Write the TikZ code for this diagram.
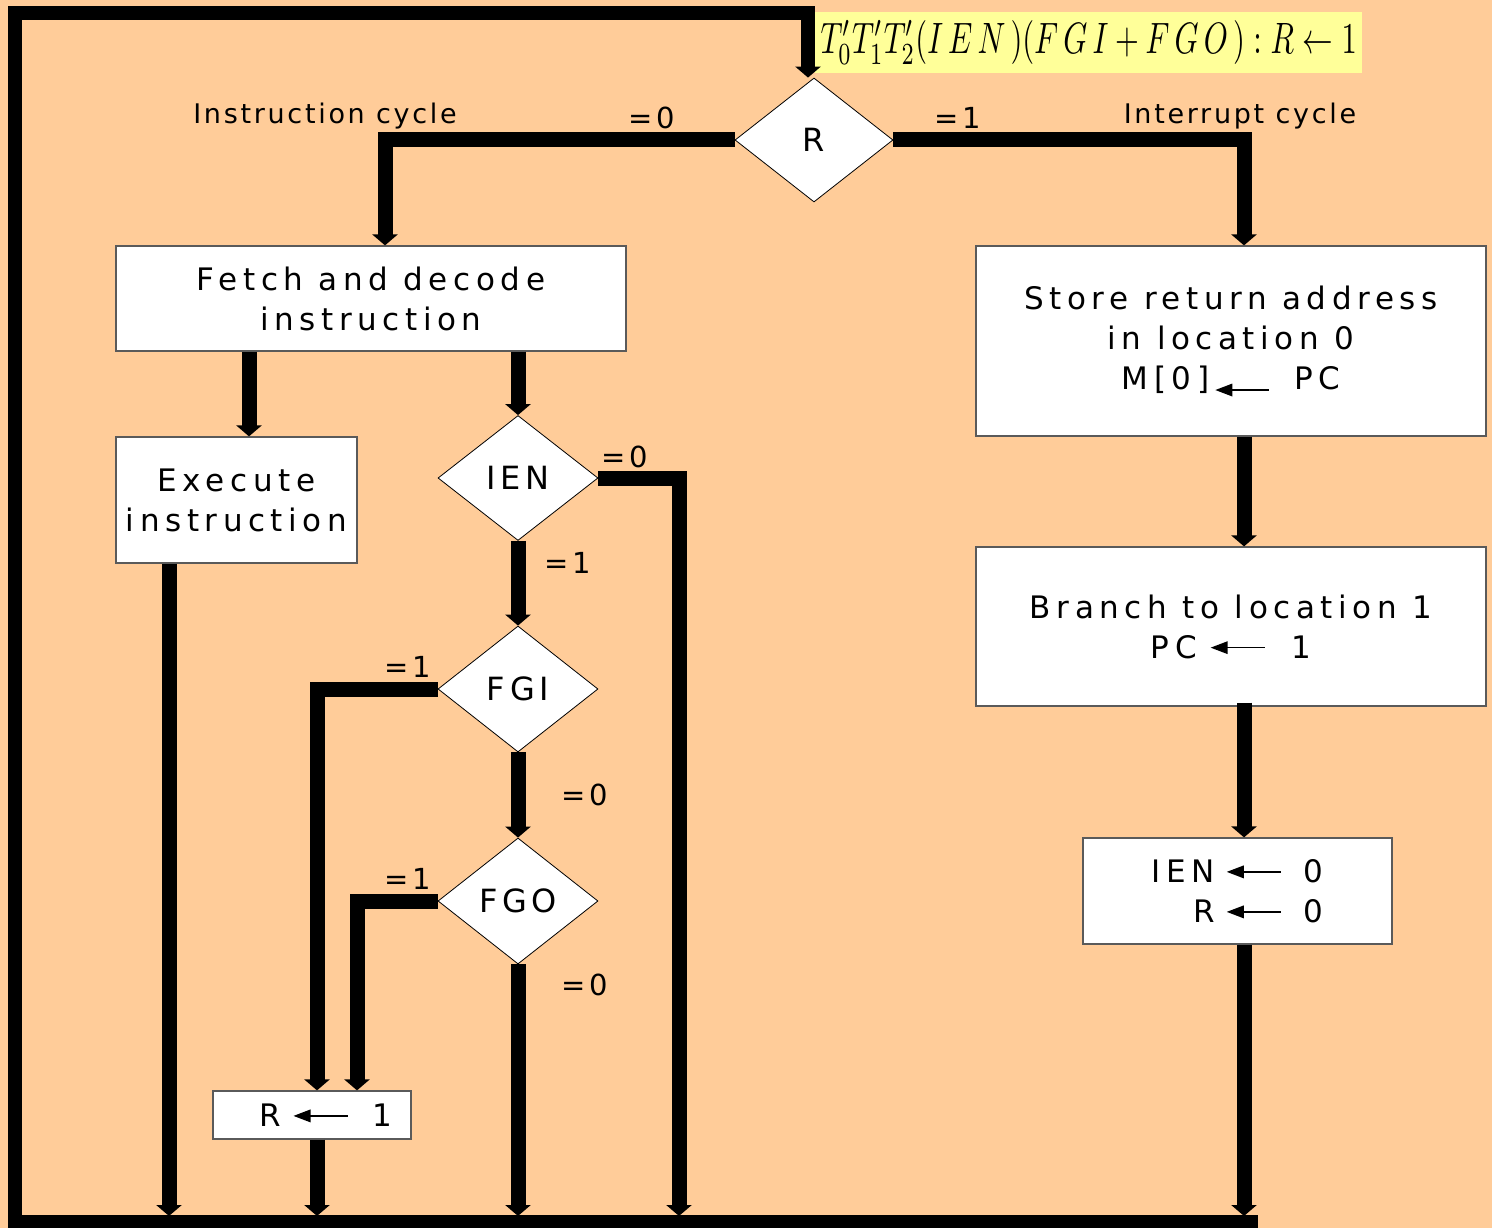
\documentclass[tikz,border=0pt]{standalone}
\usepackage{fontspec}
\usepackage{graphicx}
\usetikzlibrary{arrows.meta,shapes.geometric}
\setmainfont{DejaVu Sans}
\newfontfamily\boxfont[LetterSpace=18]{DejaVu Sans}
\newfontfamily\testfont[LetterSpace=15]{DejaVu Sans}
\newfontfamily\labelfont[LetterSpace=10]{DejaVu Sans}
\newfontfamily\valuefont[LetterSpace=14]{DejaVu Sans}
\definecolor{peach}{RGB}{255,204,153}
\definecolor{note}{RGB}{255,255,153}
\definecolor{boxline}{RGB}{90,90,90}

% small assignment arrow used inside the boxes; optional argument = height of its axis
\newcommand\larrow[1][10.4pt]{\tikz[baseline=-#1,x=1pt,y=1pt]{%
  \fill[black] (0,0) -- (17,6.5) -- (17,-6.5) -- cycle;
  \draw[black,line width=1.5pt] (16,0) -- (54,0);}}

\tikzset{
  wire/.style={line width=15pt, line join=miter},
  flow/.style={wire, -{Triangle[width=25pt,length=11pt]}},
  stepbox/.style={draw=boxline, line width=1.2pt, fill=white, inner sep=0pt,
    align=center, font=\boxfont\fontsize{31}{40}\selectfont},
  test/.style={diamond, draw=black, line width=0.8pt, fill=white, inner sep=0pt,
    font=\testfont\fontsize{32}{34}\selectfont},
  lbl/.style={inner sep=0pt, font=\labelfont\fontsize{27}{30}\selectfont},
  vallbl/.style={inner sep=0pt, font=\valuefont\fontsize{29}{30}\selectfont},
}

\begin{document}
\begin{tikzpicture}[x=1pt,y=-1pt]
\useasboundingbox (0,0) rectangle (1492,1228);
\fill[peach] (0,0) rectangle (1492,1228);

% decisions
\node[test, minimum width=158, minimum height=124] (R) at (814,140) {R};
\node[test, minimum width=160, minimum height=125] (IEN) at (518,478) {IEN};
\node[test, minimum width=160, minimum height=126] (FGI) at (518,689) {FGI};
\node[test, minimum width=160, minimum height=126] (FGO) at (518,901) {FGO};

% operation boxes
\node[stepbox, minimum width=510, minimum height=105] (fetch) at (371,298.5)
  {Fetch and decode\\instruction};
\node[stepbox, minimum width=241, minimum height=126] (exec) at (236.5,500)
  {Execute\\instruction};
\node[stepbox, minimum width=198, minimum height=48] (setr) at (312,1115)
  {\hspace*{28pt}R\hspace{12pt}\larrow\hspace{24pt}1};
\node[stepbox, minimum width=510, minimum height=190] (store) at (1231,341)
  {Store return address\\in location 0\\M[0]\hspace{6pt}\larrow[-1pt]\hspace{24pt}PC};
\node[stepbox, minimum width=510, minimum height=159] (branch) at (1231,626.5)
  {Branch to location 1\\PC\hspace{14pt}\larrow\hspace{26pt}1};
\node[stepbox, minimum width=309, minimum height=106, align=right] (setoff) at (1237.5,891)
  {IEN\hspace{12pt}\larrow\hspace{22pt}0\\R\hspace{12pt}\larrow\hspace{22pt}0};

% condition that raises R
\node[fill=note, inner sep=0pt, minimum width=547, minimum height=61, anchor=north west]
  (cond) at (815,12)
  {\raisebox{-3pt}{\resizebox*{536pt}{44pt}{$T_0'T_1'T_2'(I\,E\,N\,)(F\,G\,I+F\,G\,O\,):R\leftarrow 1$}}};

% branch labels
\node[lbl] (icyc) at (325,116) {Instruction cycle};
\node[vallbl] (rzero) at (652,118) {=0};
\node[vallbl] (rone) at (958,118) {=1};
\node[lbl] (intcyc) at (1240,116) {Interrupt cycle};
\node[vallbl] (ienzero) at (625,457) {=0};
\node[vallbl] (ienone) at (568,563) {=1};
\node[vallbl] (fgione) at (408,667) {=1};
\node[vallbl] (fgizero) at (585,795) {=0};
\node[vallbl] (fgoone) at (408,879) {=1};
\node[vallbl] (fgozero) at (585,985) {=0};

% return path along the frame
\coordinate (floor) at (0,1216);
\coordinate (loopend) at (1258,1221.5);
\coordinate (loopbl) at (14.5,1221.5);
\coordinate (looptl) at (14.5,13);
\coordinate (ienfloor) at (679,1216);
\draw[flow, line width=14pt] (loopend) -- (loopbl) -- (looptl) -| ([xshift=-6]R.north);

% instruction cycle
\draw[flow] (R.west) -| ([xshift=14]fetch.north);
\draw[flow] ([xshift=12.5]exec.north |- fetch.south) -- ([xshift=12.5]exec.north);
\draw[flow] (IEN.north |- fetch.south) -- (IEN.north);
\draw[flow] ([xshift=-67.5]exec.south) -- ([xshift=-67.5]exec.south |- floor);
\draw[flow] (IEN.east) -| (ienfloor);
\draw[flow] (IEN.south) -- (FGI.north);
\draw[flow] (FGI.west) -| ([xshift=5]setr.north);
\draw[flow] (FGI.south) -- (FGO.north);
\draw[flow] (FGO.west) -| ([xshift=45]setr.north);
\draw[flow] (FGO.south) -- (FGO.south |- floor);
\draw[flow] ([xshift=5]setr.south) -- ([xshift=5]setr.south |- floor);

% interrupt cycle
\draw[flow] (R.east) -| ([xshift=13]store.north);
\draw[flow] ([xshift=13]store.south) -- ([xshift=13]branch.north);
\draw[flow] ([xshift=13,yshift=4]branch.south) -- ([xshift=6.5]setoff.north);
\draw[flow] ([xshift=6.5]setoff.south) -- ([xshift=6.5]setoff.south |- floor);
\end{tikzpicture}
\end{document}
